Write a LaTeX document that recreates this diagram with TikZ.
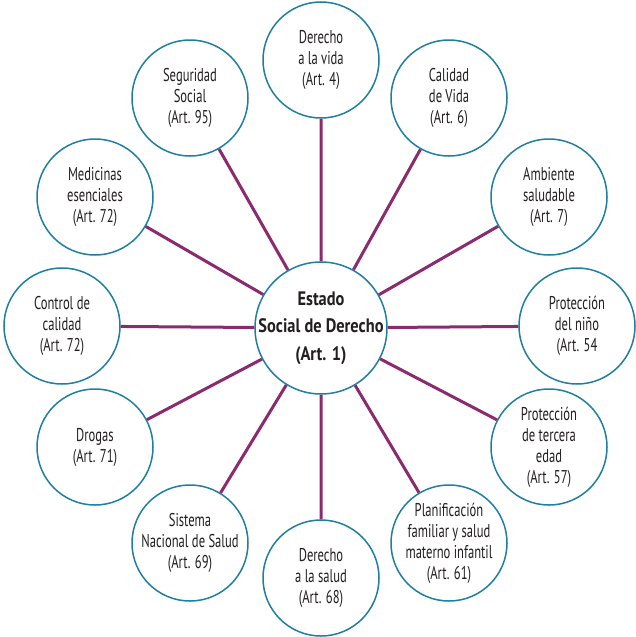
\documentclass[tikz,border=0pt]{standalone}
\usepackage{fontspec}
\setmainfont{PT Sans}[FakeStretch=0.68]
\newfontfamily\ejefont{PT Sans}[FakeStretch=0.84]
\definecolor{rayo}{HTML}{8B2A6E}
\definecolor{borde}{HTML}{1F7FA0}
\definecolor{texto}{HTML}{231F20}
\begin{document}
\begin{tikzpicture}[x=1pt,y=-1pt,
    art/.style={draw=borde,line width=1.5pt,shape=circle,fill=white,minimum size=116pt,inner sep=-20pt,align=center,text=texto,font=\fontsize{18.5}{21}\selectfont},
    eje/.style={art,minimum size=132pt,font=\ejefont\fontsize{19.5}{27.5}\selectfont\bfseries},
    rayo/.style={draw=rayo,line width=3pt}]
            \useasboundingbox (0,0) rectangle (635,637);
            \node[eje] (c) at (321,328) {Estado\\Social de Derecho\\(Art. 1)};
            \node[art] (vida) at (321,60) {Derecho\\a la vida\\(Art. 4)};
            \node[art] (cal) at (449,98) {Calidad\\de Vida\\(Art. 6)};
            \node[art] (amb) at (549,197) {Ambiente\\saludable\\(Art. 7)};
            \node[art] (nino) at (577,326) {Protección\\del niño\\(Art. 54};
            \node[art] (ter) at (549,447) {Protección\\de tercera\\edad\\(Art. 57)};
            \node[art] (plan) at (449,543) {Planificación\\familiar y salud\\materno infantil\\(Art. 61)};
            \node[art] (sal) at (321,578) {Derecho\\a la salud\\(Art. 68)};
            \node[art] (sis) at (190,543) {Sistema\\Nacional de Salud\\(Art. 69)};
            \node[art] (dro) at (95,447) {Drogas\\(Art. 71)};
            \node[art] (ctl) at (62,326) {Control de\\calidad\\(Art. 72)};
            \node[art] (med) at (95,197) {Medicinas\\esenciales\\(Art. 72)};
            \node[art] (seg) at (190,98) {Seguridad\\Social\\(Art. 95)};
            \draw[rayo] (c)--(vida) (c)--(cal) (c)--(amb) (c)--(nino) (c)--(ter) (c)--(plan)
              (c)--(sal) (c)--(sis) (c)--(dro) (c)--(ctl) (c)--(med) (c)--(seg);
          \end{tikzpicture}
\end{document}
